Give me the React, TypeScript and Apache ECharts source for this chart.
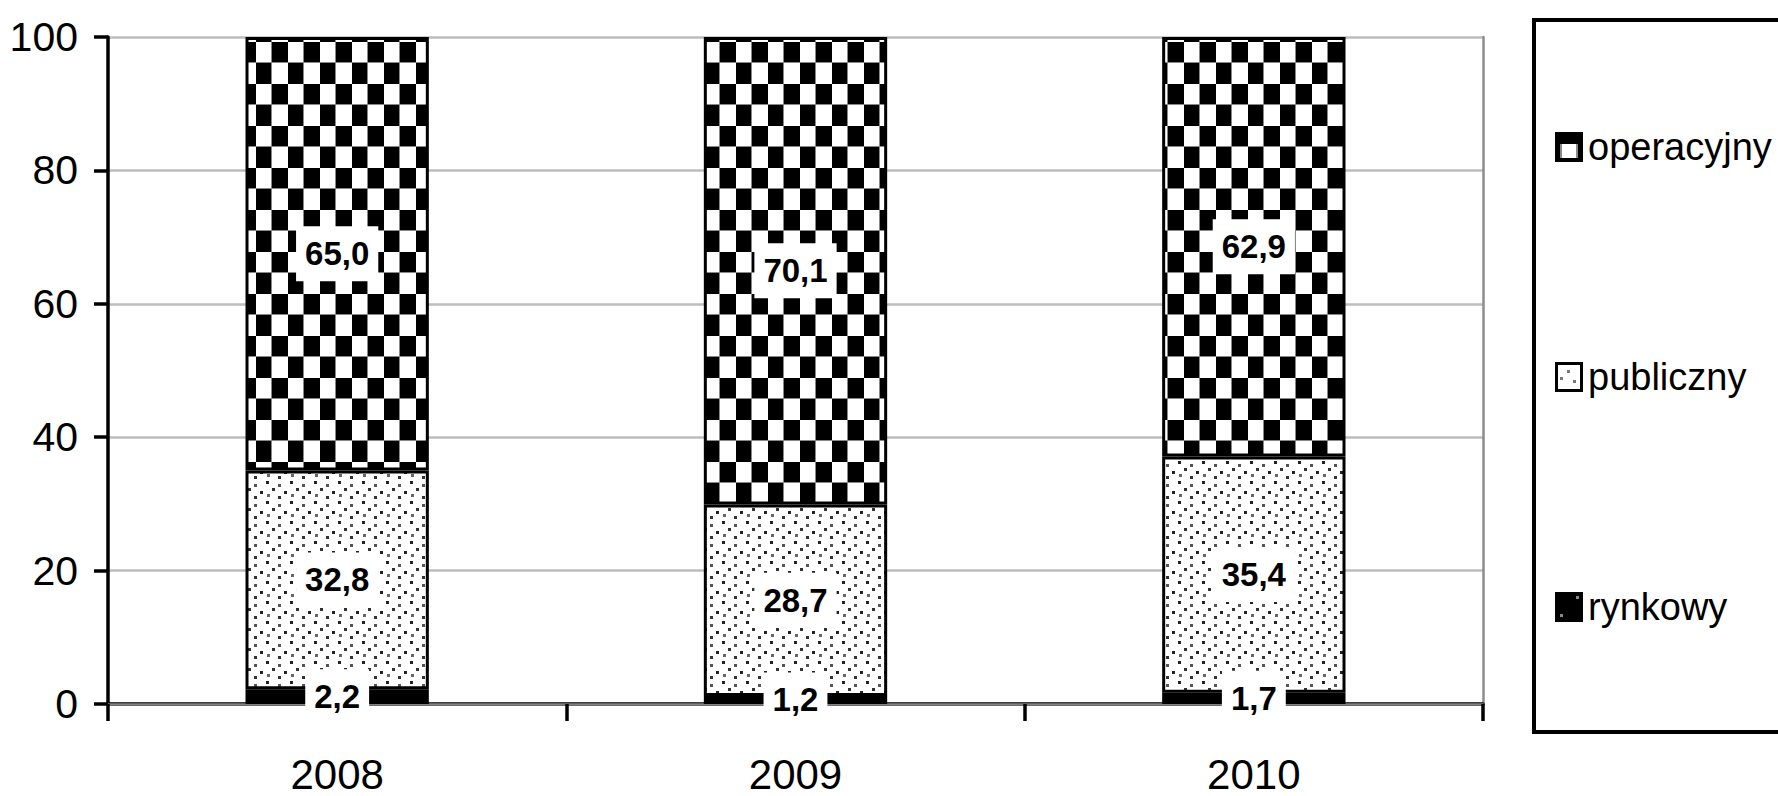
import React, { useEffect, useRef } from 'react';
import * as echarts from 'echarts';

const categories = ['2008', '2009', '2010'];
const rynkowy = [2.2, 1.2, 1.7];
const publiczny = [32.8, 28.7, 35.4];
const operacyjny = [65.0, 70.1, 62.9];
const legendOrder = ['operacyjny', 'publiczny', 'rynkowy'];
const yMin = 0;
const yMax = 100;
const yInterval = 20;

const FONT = '"Liberation Sans", Arial, sans-serif';

function makeCanvas(w: number, h: number, draw: (ctx: CanvasRenderingContext2D) => void) {
  const c = document.createElement('canvas');
  c.width = w;
  c.height = h;
  const ctx = c.getContext('2d') as CanvasRenderingContext2D;
  draw(ctx);
  return c;
}

function fmt(p: any) {
  return Number(p.value).toFixed(1).replace('.', ',');
}

export default function App() {
  const ref = useRef<HTMLDivElement>(null);
  useEffect(() => {
    if (!ref.current) return;
    const checker = makeCanvas(32, 42, (ctx) => {
      ctx.fillStyle = '#fff';
      ctx.fillRect(0, 0, 32, 42);
      ctx.fillStyle = '#000';
      ctx.fillRect(16, 0, 16, 21);
      ctx.fillRect(0, 21, 16, 21);
      ctx.fillStyle = '#888';
      ctx.fillRect(0, 20, 32, 1);
      ctx.fillRect(15, 0, 1, 42);
    });
    const dots = makeCanvas(24, 20, (ctx) => {
      ctx.fillStyle = '#fff';
      ctx.fillRect(0, 0, 24, 20);
      const pts: [number, number, string][] = [
        [2, 1, '#222'], [14, 4, '#555'], [8, 8, '#333'], [20, 11, '#222'],
        [3, 14, '#666'], [14, 16, '#333'],
      ];
      pts.forEach(([x, y, c]) => {
        ctx.fillStyle = c;
        ctx.fillRect(x, y, 3, 3);
      });
    });
    const dark = makeCanvas(32, 12, (ctx) => {
      ctx.fillStyle = '#000';
      ctx.fillRect(0, 0, 32, 12);
      ctx.fillStyle = '#888';
      ctx.fillRect(10, 5, 3, 3);
    });
    const iconOper = makeCanvas(28, 30, (ctx) => {
      ctx.fillStyle = '#000';
      ctx.fillRect(0, 0, 28, 30);
      ctx.fillStyle = '#fff';
      ctx.fillRect(5, 12, 18, 14);
      ctx.fillStyle = '#888';
      ctx.fillRect(5, 12, 2, 14);
      ctx.fillRect(21, 12, 2, 14);
    });
    const iconPub = makeCanvas(28, 30, (ctx) => {
      ctx.fillStyle = '#000';
      ctx.fillRect(0, 0, 28, 30);
      ctx.fillStyle = '#fff';
      ctx.fillRect(3, 3, 22, 24);
      ctx.fillStyle = '#777';
      ctx.fillRect(12, 8, 3, 3);
      ctx.fillRect(5, 15, 3, 3);
      ctx.fillRect(18, 18, 3, 3);
    });
    const iconRyn = makeCanvas(28, 30, (ctx) => {
      ctx.fillStyle = '#000';
      ctx.fillRect(0, 0, 28, 30);
      ctx.fillStyle = '#888';
      ctx.fillRect(21, 4, 3, 3);
      ctx.fillRect(5, 22, 3, 3);
    });
    const icons: Record<string, string> = {
      operacyjny: 'image://' + iconOper.toDataURL(),
      publiczny: 'image://' + iconPub.toDataURL(),
      rynkowy: 'image://' + iconRyn.toDataURL(),
    };
    const pat = (c: HTMLCanvasElement) => ({
      image: c,
      repeat: 'repeat',
      imageWidth: c.width,
      imageHeight: c.height,
    });

    const chart = echarts.init(ref.current, null, { renderer: 'svg' });
    const label = {
      show: true,
      position: 'inside',
      formatter: fmt,
      color: '#000',
      fontFamily: FONT,
      fontSize: 33,
      fontWeight: 'bold',
      lineHeight: 35,
      backgroundColor: '#fff',
      padding: [10, 9],
    };
    const mk = (name: string, data: number[], c: HTMLCanvasElement) => ({
      name,
      type: 'bar',
      stack: 'total',
      barWidth: '40%',
      data,
      itemStyle: { color: pat(c), borderColor: '#000', borderWidth: 3 },
      label,
      emphasis: { disabled: true },
    });
    chart.setOption({
      animation: false,
      backgroundColor: '#fff',
      grid: { left: 108, right: 295, top: 37, bottom: 92 },
      legend: {
        orient: 'vertical',
        left: 1550,
        top: 120,
        itemGap: 186,
        itemWidth: 28,
        itemHeight: 30,
        selectedMode: false,
        data: legendOrder.map((n) => ({ name: n, icon: icons[n] })),
        textStyle: { fontFamily: FONT, fontSize: 38, color: '#000', lineHeight: 44 },
      },
      graphic: [
        {
          type: 'rect',
          shape: { x: 1534, y: 20, width: 320, height: 712 },
          style: { fill: 'none', stroke: '#000', lineWidth: 4 },
          z: 10,
        },
      ],
      xAxis: [
        {
          type: 'category',
          data: categories,
          axisLine: { lineStyle: { color: '#000', width: 3.5 } },
          axisTick: { show: true, length: 17, lineStyle: { color: '#000', width: 3.5 } },
          axisLabel: { fontFamily: FONT, fontSize: 42, lineHeight: 40, color: '#000', margin: 50 },
        },
        {
          type: 'category',
          position: 'top',
          data: categories,
          axisLine: { lineStyle: { color: '#808080', width: 2.5 } },
          axisTick: { show: false },
          axisLabel: { show: false },
        },
      ],
      yAxis: [
        {
          type: 'value',
          min: yMin,
          max: yMax,
          interval: yInterval,
          axisLine: { show: true, lineStyle: { color: '#000', width: 3.5 } },
          axisTick: { show: true, length: 14, lineStyle: { color: '#000', width: 3.5 } },
          splitLine: { lineStyle: { color: '#bdbdbd', width: 2.5 } },
          axisLabel: { fontFamily: FONT, fontSize: 41, color: '#000', margin: 30 },
        },
        {
          type: 'value',
          position: 'right',
          min: yMin,
          max: yMax,
          interval: yInterval,
          axisLine: { show: true, lineStyle: { color: '#8c8c8c', width: 2.5 } },
          axisTick: { show: false },
          axisLabel: { show: false },
          splitLine: { show: false },
        },
      ],
      series: [
        mk('rynkowy', rynkowy, dark),
        mk('publiczny', publiczny, dots),
        mk('operacyjny', operacyjny, checker),
      ],
    });
    return () => chart.dispose();
  }, []);
  return (
    <div
      ref={ref}
      style={{ position: 'fixed', left: 0, top: 0, width: 1778, height: 796, background: '#fff' }}
    />
  );
}
